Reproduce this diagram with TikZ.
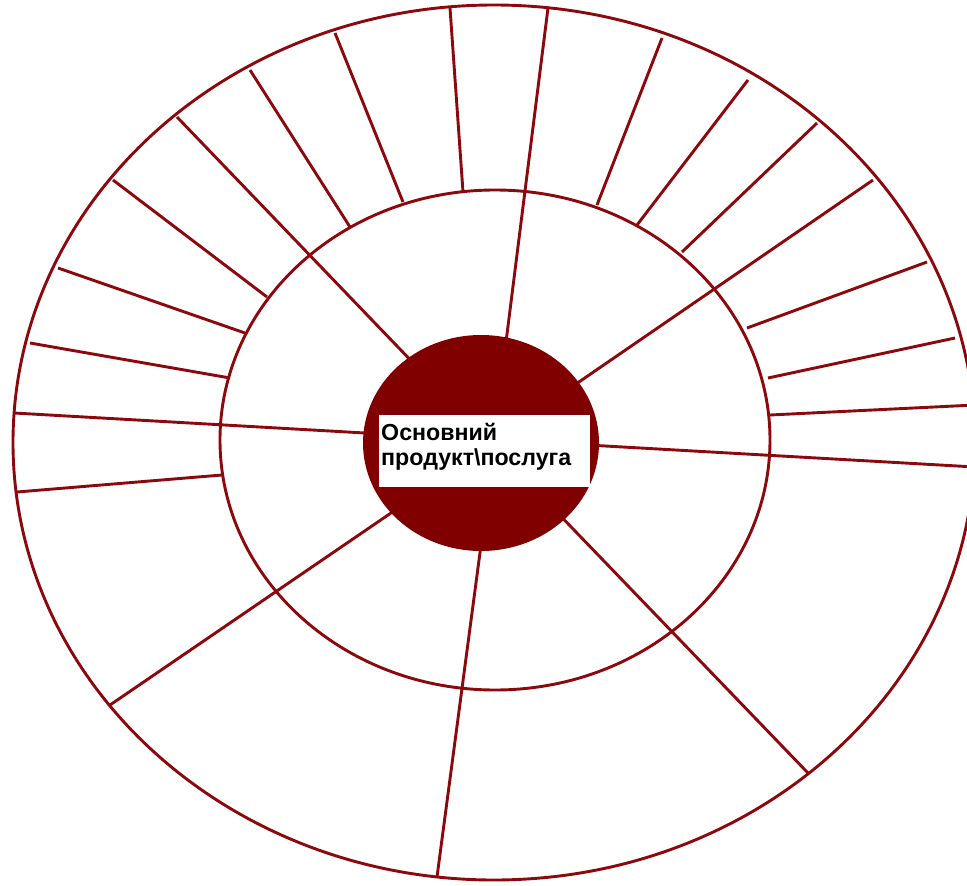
\documentclass[tikz,border=0pt]{standalone}
\usepackage{fontspec}
\setmainfont{Liberation Sans}
\definecolor{ring}{RGB}{140,8,12}
\definecolor{core}{RGB}{128,0,0}
\begin{document}
\begin{tikzpicture}[x=1pt,y=-1pt,
  line/.style={draw=ring, line width=2.9pt},
  label/.style={anchor=base west, inner sep=0pt, font=\bfseries\fontsize{23.2}{25}\selectfont, text=black}]
\useasboundingbox (0,0) rectangle (967,886);
\clip (0,0) rectangle (967,886);
\fill[white] (0,0) rectangle (967,886);
% rings
\coordinate (outerc) at (494,442.5);
\coordinate (midc) at (495,440);
\coordinate (corec) at (481,443);
\draw[line] (outerc) ellipse [x radius=481pt, y radius=437.5pt];
\draw[line] (midc) ellipse [x radius=275pt, y radius=250pt];
% spokes of the outer ring only
\draw[line] (450,8) -- (463,192);
\draw[line] (335,33) -- (403,202);
\draw[line] (250,70) -- (350,227);
\draw[line] (113,180) -- (267,297);
\draw[line] (58,268) -- (245,333);
\draw[line] (30,343) -- (230,378);
\draw[line] (17,492) -- (222,475);
\draw[line] (662,38) -- (597,205);
\draw[line] (748,80) -- (637,225);
\draw[line] (817,123) -- (682,252);
\draw[line] (927,262) -- (747,328);
\draw[line] (955,338) -- (768,378);
\draw[line] (975,405) -- (770,415);
% spokes reaching the core
\draw[line] (14,413) -- (400,435);
\draw[line] (177,117) -- (420,370);
\draw[line] (548,8) -- (505,350);
\draw[line] (873,180) -- (560,395);
\draw[line] (975,467) -- (570,444);
\draw[line] (808,773) -- (550,505);
\draw[line] (437,877) -- (483,530);
\draw[line] (110,705) -- (410,500);
% core
\fill[core] (corec) ellipse [x radius=118pt, y radius=108pt];
\fill[white] (379,415) rectangle (590,487);
\node[label] (l1) at (381,440) {Основний};
\node[label] (l2) at (381,465) {продукт\textbackslash послуга};
\end{tikzpicture}
\end{document}
